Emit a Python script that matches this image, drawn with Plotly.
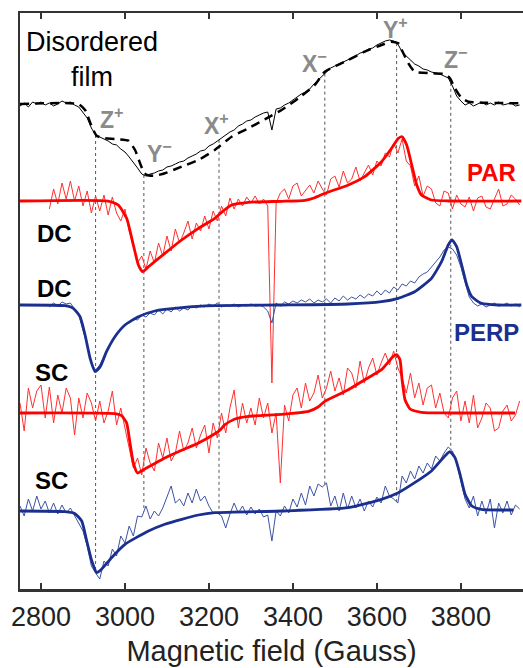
import numpy as np
import plotly.graph_objects as go

# ---------------- data (signal amplitudes, arbitrary units) ----------------
field_full = list(range(2750, 3950, 10))   # 2750 ... 3940
field_dc = list(range(2820, 3950, 10))     # 2820 ... 3940

black_noisy = [-2, 1, -3, 2, 0, 2, -1, 1, -2, 0,
               3, 1, 2, -1, -3, -8, -14, -24, -31, -33,
               -35, -37, -40, -41, -45, -48, -53, -58, -64, -70,
               -72, -70, -69, -67, -66, -63, -62, -60, -58, -57,
               -54, -52, -50, -47, -46, -42, -40, -37, -34, -31,
               -28, -26, -22, -20, -17, -16, -13, -11, -9, -8,
               -26, -5, -4, -1, 1, 4, 7, 10, 12, 15,
               20, 24, 28, 32, 36, 38, 40, 42, 44, 46,
               48, 51, 52, 55, 56, 59, 61, 63, 64, 63,
               60, 52, 48, 44, 40, 38, 35, 34, 32, 31,
               30, 28, 26, 18, 8, 3, -1, 1, -2, 0,
               2, -1, 1, -1, 2, -1, 0, 1, -2, -1]

par_dc_noisy = [-8, 12, -3, 18, 2, 20, 0, 15, -5, 10,
                -12, 5, -10, 6, -14, 4, -12, -20, -8, -30,
                -45, -62, -55, -68, -50, -62, -42, -55, -35, -50,
                -28, -42, -32, -20, -38, -22, -30, -15, -28, -10,
                -20, -5, -15, 3, -8, 2, -5, 4, -2, 5,
                -3, 2, -5, -182, -2, 8, 12, 2, 15, 18,
                5, 10, 16, 8, 20, 12, 6, 22, 25, 14,
                30, 18, 22, 34, 20, 28, 36, 26, 40, 35,
                48, 44, 58, 48, 62, 40, 35, 15, 25, 5,
                15, 12, -2, -5, 10, 8, -8, 6, -3, -6,
                4, -10, 3, 5, -6, -8, 2, 12, -5, -3,
                6, 2, -4]

perp_dc_noisy = [-2, 2, -1, 3, 1, 2, -4, -10, -25, -40,
                 -58, -65, -60, -52, -42, -36, -28, -25, -20, -18,
                 -14, -15, -10, -12, -8, -10, -5, -9, -4, -7,
                 -2, -6, -3, -5, -1, -3, 0, -2, 1, -1,
                 2, -2, 0, -1, 1, -2, 0, -1, 1, -1,
                 0, -2, -6, -18, 2, -1, 3, 1, 4, 2,
                 5, 3, 6, 2, 5, 3, 6, 2, 7, 4,
                 9, 5, 8, 6, 10, 7, 11, 9, 14, 10,
                 15, 12, 18, 15, 21, 19, 24, 22, 28, 31,
                 33, 38, 42, 48, 55, 58, 56, 50, 38, 22,
                 8, 2, -1, 1, -2, 0, 2, -1, 0, 2,
                 -1, 1, -2]

par_sc_noisy = [10, -18, 25, 5, 22, 28, -5, 26, -10, 18,
                0, 25, 15, -22, 15, -5, 20, 10, -8, 12,
                -10, 2, 22, -12, 5, -15, -35, -55, -45, -62,
                -35, -50, -58, -30, -45, -25, -48, -40, -18, -38,
                -30, -15, -35, -22, -12, -40, -10, -25, 0, -20,
                5, 23, -15, 10, -10, 5, -12, 15, -5, 10,
                -20, 0, -70, 8, -8, 18, 25, 5, 30, 12,
                20, 38, 15, 25, 42, 22, 35, 18, 45, 40,
                25, 52, 30, 45, 55, 38, 50, 60, 48, 62,
                45, 35, 20, 40, 15, 30, 8, 25, 28, 5,
                20, 0, -5, 15, 22, -8, 12, -10, 18, -15,
                -5, 10, 5, -18, -15, 2, 8, -8, -2, 12]

perp_sc_noisy = [5, -5, 12, 0, 15, 2, 10, -2, 8, -3,
                 6, -2, 3, -5, -12, -20, -35, -55, -62, -68,
                 -50, -55, -38, -45, -25, -32, -15, -25, -5, -6,
                 5, -8, 0, -5, 3, 15, 25, 8, 12, 5,
                 18, 8, 22, 10, 15, 5, -2, -2, -5, -17,
                 -3, 8, -2, 5, -4, 4, -3, 2, -6, -4,
                 -30, 0, -5, 5, -2, 12, 4, 18, 6, 25,
                 15, 27, 24, 28, 5, 15, 0, 18, 2, 15,
                 3, 12, 0, 10, 4, 14, 8, 25, 15, 12,
                 8, 35, 28, 40, 32, 45, 38, 48, 42, 55,
                 50, 58, 64, 60, 48, 30, 12, 3, 15, -5,
                 10, -3, 12, -17, 8, -2, 10, -4, 6, 2]

# fitted (simulated) spectra
black_fit_x = [2750, 2889, 2905, 2921, 2933, 2952, 2976, 3008, 3024, 3036, 3044, 3052,
               3071, 3095, 3135, 3175, 3214, 3254, 3294, 3333, 3373, 3413, 3452, 3476,
               3532, 3571, 3611, 3635, 3651, 3663, 3675, 3690, 3730, 3762, 3774, 3786,
               3802, 3818, 3849, 3944]
black_fit_y = [0, 0, -6, -22.7, -32, -34.3, -35, -36.7, -46, -59.3, -67.7, -71,
               -71.7, -69.3, -62.7, -56, -46, -32.7, -24.3, -15.3, -6, 5.7, 19, 32.3,
               44, 52.3, 59, 62.3, 60.7, 50.7, 40.7, 32.3, 30.7, 30, 25.7, 15.7,
               5.7, 2.3, 1.3, 0.7]

par_dc_fit_x = [2750, 2960, 2984, 3004, 3020, 3032, 3042, 3056, 3095, 3135, 3175, 3214,
                3230, 3254, 3294, 3373, 3429, 3452, 3476, 3532, 3571, 3611, 3635, 3651,
                3660, 3671, 3683, 3695, 3706, 3730, 3770, 3944]
par_dc_fit_y = [0, 0, -4, -17.3, -44, -64, -70.7, -65.7, -52.3, -39, -27.3, -17.3,
                -11.3, -4, -1.3, -0.3, 0.7, 3.3, 7.7, 16, 24.3, 39.3, 52.7, 62.7,
                64.3, 56, 36, 16, 6, 1, 0, 0]

perp_dc_fit_x = [2750, 2857, 2877, 2893, 2905, 2917, 2929, 2941, 2956, 2976, 3000, 3032,
                 3071, 3135, 3214, 3373, 3532, 3611, 3651, 3690, 3730, 3754, 3770, 3779,
                 3790, 3802, 3814, 3826, 3849, 3889, 3944]
perp_dc_fit_y = [0, -0.7, -3.3, -11.7, -30, -53.3, -66.7, -61.7, -46.7, -31.7, -20, -11.7,
                 -6, -2.7, -0.7, 0, 1, 3.3, 6.7, 13.3, 26.7, 43.3, 60, 65,
                 58.3, 40, 20, 8.3, 1.7, 0, 0]

par_sc_fit_x = [2750, 2976, 2992, 3004, 3012, 3020, 3030, 3044, 3095, 3135, 3175, 3214,
                3226, 3238, 3262, 3294, 3373, 3437, 3460, 3476, 3532, 3571, 3611, 3639,
                3647, 3655, 3660, 3667, 3679, 3706, 3770, 3929]
par_sc_fit_y = [0, -0.7, -2.7, -10, -30, -50, -60, -56.7, -45, -37.3, -30, -20.7,
                -17.3, -11.7, -6, -3.3, -1.3, 1.7, 6, 11.7, 23.3, 33.3, 43.3, 56.7,
                58.3, 53.3, 33.3, 13.3, 4, 0.7, 0, 0]

perp_sc_fit_x = [2750, 2857, 2881, 2897, 2909, 2921, 2933, 2944, 2968, 3000, 3056, 3095,
                 3135, 3175, 3214, 3373, 3532, 3611, 3651, 3690, 3730, 3762, 3774, 3786,
                 3798, 3810, 3826, 3849, 3925]
perp_sc_fit_y = [0, -0.7, -2.7, -10, -30, -50, -61.7, -58.3, -46.7, -33.3, -20, -13.3,
                 -8.3, -4, -1.7, 0, 3.3, 11.7, 18.3, 28.3, 40, 55, 59.3, 53.3,
                 36.7, 16.7, 5, 1.7, 1]

# canonical field positions (Gauss)
marker_fields = [2930, 3045, 3224, 3476, 3647, 3776]
marker_labels = ["Z<sup>+</sup>", "Y<sup>\u2212</sup>", "X<sup>+</sup>",
                 "X<sup>\u2212</sup>", "Y<sup>+</sup>", "Z<sup>\u2212</sup>"]

x_ticks = [2800, 3000, 3200, 3400, 3600, 3800]

# ---------------- styling / layout ----------------
RED = "#ff0000"
BLUE = "#1b2f8e"
BLUE_THIN = "#3d52a6"
GREY = "#8a8a8a"
AX = "#333333"
FONT = "Liberation Sans, Arial, sans-serif"

off_black, off_pardc, off_perpdc, off_parsc, off_perpsc = 485, 388, 284, 176, 78


def shifted(vals, off):
    return [v + off for v in vals]


fig = go.Figure()

# guide lines (dotted) from top spectrum to bottom spectrum
gx, gy = [], []
tops = np.interp(marker_fields, field_full, black_noisy) + off_black
bots = np.interp(marker_fields, field_full, perp_sc_noisy) + off_perpsc
for f, t, b in zip(marker_fields, tops, bots):
    gx += [f, f, None]
    gy += [t, b, None]
fig.add_trace(go.Scatter(x=gx, y=gy, mode="lines",
                         line=dict(color="#555555", width=1, dash="dot"),
                         hoverinfo="skip", showlegend=False))

fig.add_trace(go.Scatter(x=field_full, y=shifted(black_noisy, off_black), mode="lines",
                         line=dict(color="#000000", width=1), showlegend=False))
fig.add_trace(go.Scatter(x=field_dc, y=shifted(par_dc_noisy, off_pardc), mode="lines",
                         line=dict(color="#ff3030", width=1), showlegend=False))
fig.add_trace(go.Scatter(x=field_dc, y=shifted(perp_dc_noisy, off_perpdc), mode="lines",
                         line=dict(color=BLUE_THIN, width=1), showlegend=False))
fig.add_trace(go.Scatter(x=field_full, y=shifted(par_sc_noisy, off_parsc), mode="lines",
                         line=dict(color="#ff3030", width=1), showlegend=False))
fig.add_trace(go.Scatter(x=field_full, y=shifted(perp_sc_noisy, off_perpsc), mode="lines",
                         line=dict(color=BLUE_THIN, width=1), showlegend=False))

fits = [
    (black_fit_x, black_fit_y, off_black, dict(color="#000000", width=2.5, dash="9px,6px")),
    (par_dc_fit_x, par_dc_fit_y, off_pardc, dict(color=RED, width=2.8)),
    (perp_dc_fit_x, perp_dc_fit_y, off_perpdc, dict(color=BLUE, width=2.8)),
    (par_sc_fit_x, par_sc_fit_y, off_parsc, dict(color=RED, width=2.8)),
    (perp_sc_fit_x, perp_sc_fit_y, off_perpsc, dict(color=BLUE, width=2.8)),
]
for fx, fy, off, ln in fits:
    ln = dict(ln, shape="spline", smoothing=0.5)
    fig.add_trace(go.Scatter(x=fx, y=shifted(fy, off), mode="lines", line=ln,
                             showlegend=False))

ann = []
# canonical position labels
label_xy = [(2967, 471), (3083, 437), (3217, 465), (3452, 527), (3645, 561), (3788, 531)]
for (lx, ly), txt in zip(label_xy, marker_labels):
    ann.append(dict(x=lx, y=ly, text="<b>" + txt + "</b>", showarrow=False,
                    font=dict(family=FONT, size=23, color=GREY)))

ann += [
    dict(x=2921, y=547, text="Disordered", showarrow=False,
         font=dict(family=FONT, size=27, color="#000000")),
    dict(x=2921, y=512, text="film", showarrow=False,
         font=dict(family=FONT, size=27, color="#000000")),
    dict(x=3872, y=417, text="<b>PAR</b>", showarrow=False,
         font=dict(family=FONT, size=24, color=RED)),
    dict(x=3862, y=257, text="<b>PERP</b>", showarrow=False,
         font=dict(family=FONT, size=24, color=BLUE)),
    dict(x=2833, y=356, text="<b>DC</b>", showarrow=False,
         font=dict(family=FONT, size=24, color="#000000")),
    dict(x=2831, y=301, text="<b>DC</b>", showarrow=False,
         font=dict(family=FONT, size=24, color="#000000")),
    dict(x=2824, y=217, text="<b>SC</b>", showarrow=False,
         font=dict(family=FONT, size=24, color="#000000")),
    dict(x=2824, y=109, text="<b>SC</b>", showarrow=False,
         font=dict(family=FONT, size=24, color="#000000")),
]

fig.update_layout(
    width=523, height=668,
    margin=dict(l=20, r=0, t=13, b=79),
    plot_bgcolor="white", paper_bgcolor="white",
    annotations=ann,
    showlegend=False,
    xaxis=dict(range=[2750, 3948], tickvals=x_ticks,
               ticktext=[str(v) for v in x_ticks],
               ticks="inside", ticklen=6, tickwidth=2, tickcolor=AX,
               showline=True, linewidth=2.5, linecolor=AX, mirror="ticks",
               showgrid=False, zeroline=False, automargin=False,
               tickfont=dict(family=FONT, size=27, color="#222222"),
               ticklabelstandoff=2,
               title=dict(text="Magnetic field (Gauss)", standoff=10,
                          font=dict(family=FONT, size=29, color="#222222"))),
    yaxis=dict(range=[0, 576], showticklabels=False, ticks="",
               showline=True, linewidth=2.5, linecolor=AX, mirror=False,
               showgrid=False, zeroline=False, automargin=False),
)

# remove the default page margin so the figure fills the 523x668 window exactly
fig.write_html("out.html",
               config={"displayModeBar": False, "staticPlot": True},
               post_script="document.body.style.margin='0';"
                           "document.body.style.overflow='hidden';")
